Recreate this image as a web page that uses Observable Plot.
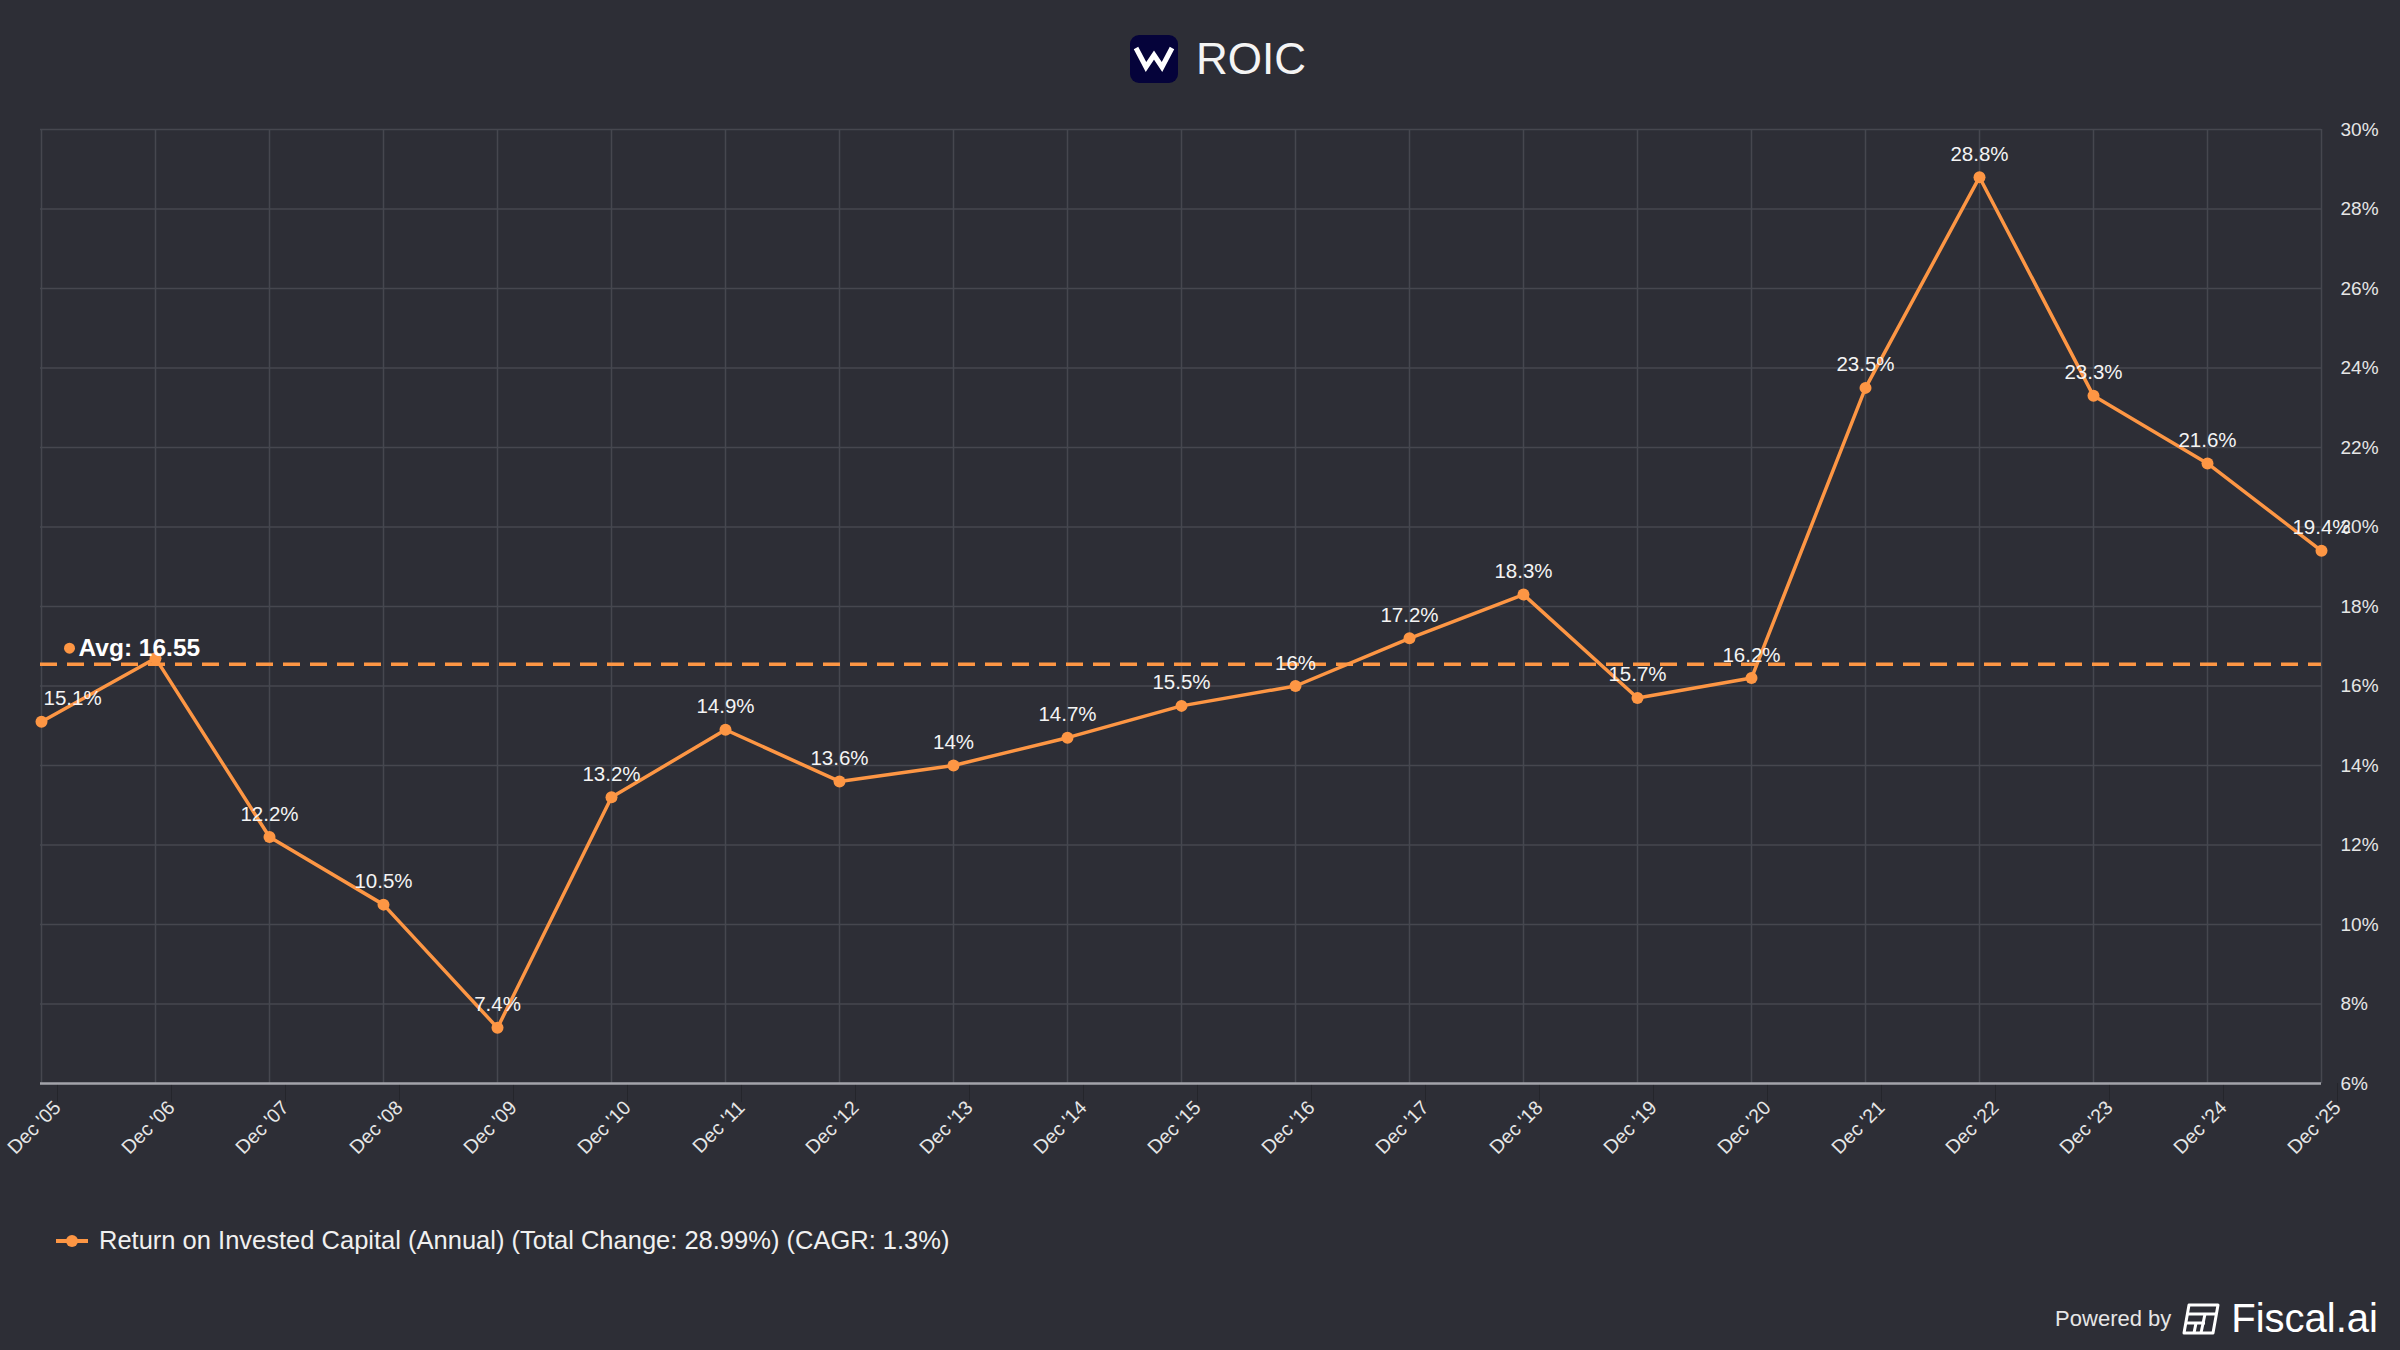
<!DOCTYPE html>
<html>
<head>
<meta charset="utf-8">
<script src="https://cdn.jsdelivr.net/npm/d3@7"></script>
<script src="https://cdn.jsdelivr.net/npm/@observablehq/plot@0.6"></script>
<style>
  html, body { margin: 0; padding: 0; background: #2d2e36; }
  body { width: 2400px; height: 1350px; overflow: hidden; font-family: "Liberation Sans", Arial, sans-serif; }
  #wrap { position: relative; width: 2400px; height: 1350px; background: #2d2e36; }
  #title { position: absolute; top: 33px; left: 1130px; height: 52px; display: flex; align-items: center; gap: 18px; color: #f4f4f4; font-size: 44px; }
  #chart { position: absolute; top: 100px; left: 0; }
  #legend { position: absolute; top: 1226px; left: 56px; display: flex; align-items: center; color: #f0f0f0; font-size: 25.5px; }
  #footer { position: absolute; top: 1296px; right: 22px; display: flex; align-items: center; color: #f4f4f4; }
</style>
</head>
<body>
<div id="wrap">
  <div id="title">
    <svg width="48" height="48" viewBox="0 0 48 48"><rect x="0" y="0" width="48" height="48" rx="9" fill="#05033a"/><polyline points="6,13 16,32 24,20 32,32 42,13" fill="none" stroke="#ffffff" stroke-width="5" stroke-linejoin="miter"/></svg>
    <span>ROIC</span>
  </div>
  <div id="chart"></div>
  <div id="legend">
    <svg width="36" height="20" viewBox="0 0 36 20"><line x1="0" y1="10" x2="32" y2="10" stroke="#fd9644" stroke-width="4"/><circle cx="16" cy="10" r="6" fill="#fd9644"/></svg>
    <span id="legendText" style="margin-left:7px"></span>
  </div>
  <div id="footer">
    <span style="font-size:22px;color:#e6e6e6;margin-right:10px">Powered by</span>
    <svg width="40" height="32" viewBox="0 0 40 32" style="margin-right:10px"><g fill="none" stroke="#ffffff" stroke-width="3"><path d="M8,2 H37 L32,30 H3 Z" stroke-linejoin="round"/><line x1="7" y1="11" x2="35" y2="11"/><line x1="6" y1="20" x2="24" y2="20"/><line x1="15" y1="20" x2="13" y2="30"/><line x1="24" y1="11" x2="20" y2="30"/></g></svg>
    <span style="font-size:40px;color:#ffffff;font-weight:500">Fiscal.ai</span>
  </div>
</div>
<script>
const categories = ["Dec '05","Dec '06","Dec '07","Dec '08","Dec '09","Dec '10","Dec '11","Dec '12","Dec '13","Dec '14","Dec '15","Dec '16","Dec '17","Dec '18","Dec '19","Dec '20","Dec '21","Dec '22","Dec '23","Dec '24","Dec '25"];
const roic = [15.1, 16.7, 12.2, 10.5, 7.4, 13.2, 14.9, 13.6, 14.0, 14.7, 15.5, 16.0, 17.2, 18.3, 15.7, 16.2, 23.5, 28.8, 23.3, 21.6, 19.4];
const yTicks = [6, 8, 10, 12, 14, 16, 18, 20, 22, 24, 26, 28, 30];
const avgRoic = 16.55;
const seriesName = "Return on Invested Capital (Annual) (Total Change: 28.99%) (CAGR: 1.3%)";

document.getElementById("legendText").textContent = seriesName;

const orange = "#fd9644";
const gridColor = "#46474f";
const data = categories.map((c, i) => ({cat: c, v: roic[i], i}));
const fmt = d => `${+d.toFixed(1)}%`;
const firstLabel = data.filter(d => d.i === 0);
const otherLabels = data.filter(d => d.i > 1);

const chart = Plot.plot({
  width: 2400,
  height: 1080,
  marginTop: 29,
  marginBottom: 97,
  marginLeft: 40,
  marginRight: 79,
  style: {background: "transparent", color: "#e6e6e6", fontFamily: "'Liberation Sans', Arial, sans-serif"},
  x: {type: "point", domain: categories, padding: 0},
  y: {domain: [6, 30]},
  marks: [
    Plot.gridX(categories, {stroke: gridColor, strokeOpacity: 1, strokeWidth: 1.5}),
    Plot.gridY(yTicks, {stroke: gridColor, strokeOpacity: 1, strokeWidth: 1.5}),
    Plot.axisX(categories, {tickRotate: -45, tickSize: 19, tickPadding: 2, dx: 16, stroke: "#24252b", fill: "#e6e6e6", fontSize: 19.5, label: null}),
    Plot.axisY(yTicks, {anchor: "right", tickSize: 0, tickPadding: 19, tickFormat: d => d + "%", fill: "#e6e6e6", fontSize: 19, label: null}),
    Plot.ruleY([6], {stroke: "#a3a3aa", strokeWidth: 2.5}),
    Plot.ruleY([avgRoic], {stroke: orange, strokeWidth: 3.5, strokeDasharray: "17,10"}),
    Plot.line(data, {x: "cat", y: "v", stroke: orange, strokeWidth: 3.5}),
    Plot.dot(data, {x: "cat", y: "v", r: 6, fill: orange}),
    Plot.text(otherLabels, {x: "cat", y: "v", text: d => fmt(d.v), dy: -23, fill: "#f4f4f4", fontSize: 20.5, textAnchor: "middle"}),
    Plot.text(firstLabel, {x: "cat", y: "v", text: d => fmt(d.v), dy: -23, dx: 2, fill: "#f4f4f4", fontSize: 20.5, textAnchor: "start"}),
    Plot.dot([avgRoic], {x: () => categories[0], y: d => d, dx: 28, dy: -16, r: 5.5, fill: orange}),
    Plot.text([avgRoic], {x: () => categories[0], y: d => d, text: d => `Avg: ${d.toFixed(2)}`, dx: 37, dy: -16, textAnchor: "start", fill: "#ffffff", fontSize: 24.5, fontWeight: "bold"})
  ]
});
document.getElementById("chart").appendChild(chart);
</script>
</body>
</html>
